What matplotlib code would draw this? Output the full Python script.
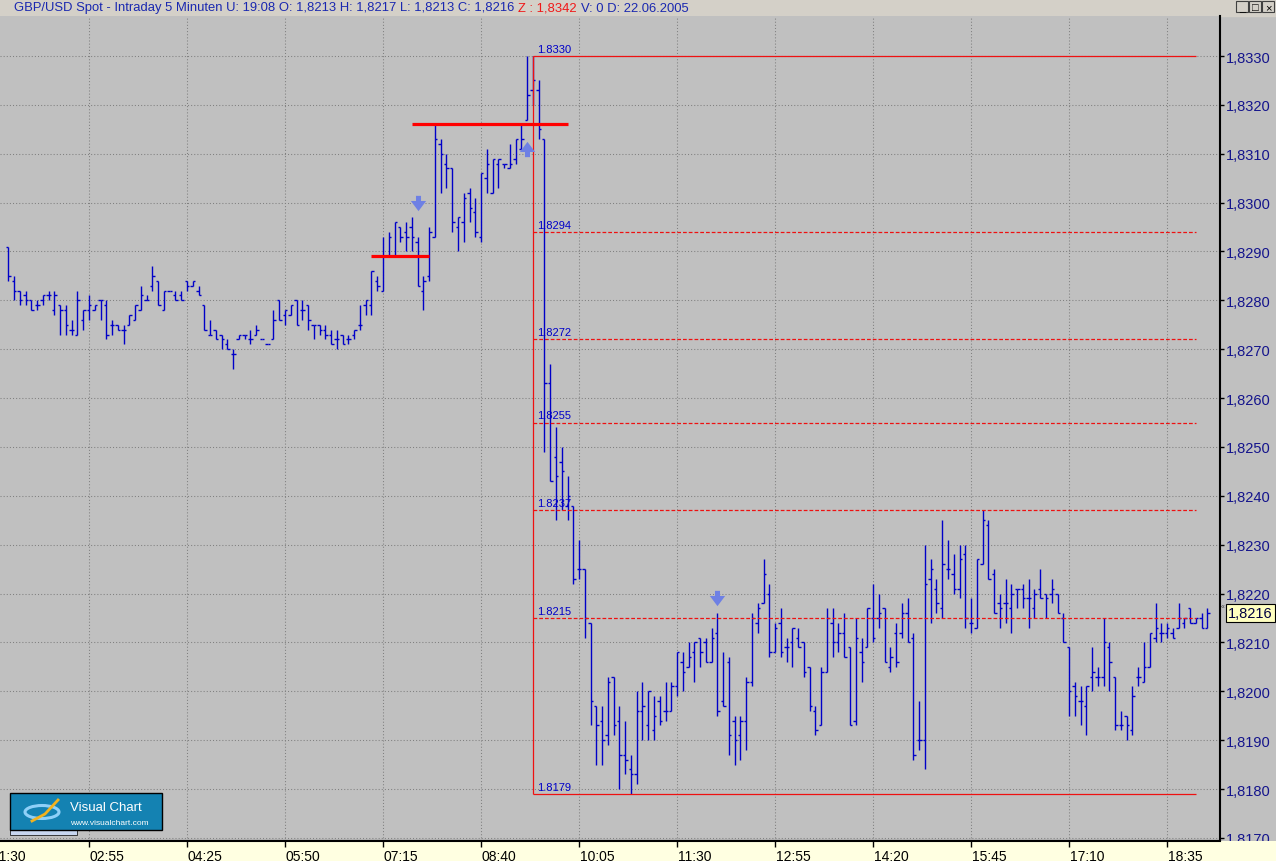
import numpy as np
import matplotlib.pyplot as plt
from matplotlib.path import Path
from matplotlib.markers import MarkerStyle
from matplotlib.patches import Rectangle, Ellipse

plt.rcParams['font.family'] = ['Liberation Sans', 'DejaVu Sans']

# ---------------------------------------------------------------
# GBP/USD Spot, 5 minute bars, 22.06.2005
# ---------------------------------------------------------------
opens = [1.8291, 1.8284, 1.8282, 1.8281, 1.8280, 1.8279, 1.8280, 1.8281, 1.8278, 1.8279,
         1.8278, 1.8274, 1.8273, 1.8276, 1.8278, 1.8278, 1.8280, 1.8279, 1.8275, 1.8275,
         1.8274, 1.8275, 1.8276, 1.8278, 1.8280, 1.8283, 1.8284, 1.8278, 1.8282, 1.8281,
         1.8281, 1.8284, 1.8283, 1.8282, 1.8279, 1.8273, 1.8274, 1.8273, 1.8271, 1.8269,
         1.8272, 1.8273, 1.8272, 1.8273, 1.8272, 1.8271, 1.8272, 1.8280, 1.8277, 1.8277,
         1.8280, 1.8278, 1.8279, 1.8275, 1.8275, 1.8274, 1.8273, 1.8272, 1.8273, 1.8272,
         1.8273, 1.8275, 1.8279, 1.8279, 1.8284, 1.8282, 1.8289, 1.8289, 1.8295, 1.8294,
         1.8295, 1.8292, 1.8282, 1.8285, 1.8293, 1.8312, 1.8308, 1.8307, 1.8295, 1.8296,
         1.8302, 1.8298, 1.8293, 1.8305, 1.8302, 1.8308, 1.8308, 1.8307, 1.8309, 1.8311,
         1.8317, 1.8323, 1.8323, 1.8313, 1.8263, 1.8248, 1.8247, 1.8238, 1.8238, 1.8225,
         1.8225, 1.8214, 1.8197, 1.8194, 1.8191, 1.8203, 1.8194, 1.8187, 1.8184, 1.8183,
         1.8196, 1.8193, 1.8192, 1.8198, 1.8196, 1.8196, 1.8201, 1.8206, 1.8205, 1.8208,
         1.8211, 1.8210, 1.8206, 1.8212, 1.8198, 1.8206, 1.8194, 1.8191, 1.8194, 1.8202,
         1.8214, 1.8218, 1.8220, 1.8208, 1.8214, 1.8209, 1.8210, 1.8211, 1.8210, 1.8205,
         1.8196, 1.8193, 1.8204, 1.8214, 1.8210, 1.8212, 1.8209, 1.8194, 1.8208, 1.8209,
         1.8215, 1.8215, 1.8217, 1.8205, 1.8212, 1.8212, 1.8216, 1.8211, 1.8190, 1.8190,
         1.8223, 1.8221, 1.8217, 1.8225, 1.8224, 1.8221, 1.8228, 1.8214, 1.8213, 1.8226,
         1.8234, 1.8224, 1.8218, 1.8218, 1.8217, 1.8221, 1.8221, 1.8219, 1.8217, 1.8221,
         1.8220, 1.8220, 1.8220, 1.8215, 1.8209, 1.8201, 1.8198, 1.8197, 1.8203, 1.8203,
         1.8203, 1.8209, 1.8203, 1.8193, 1.8195, 1.8192, 1.8203, 1.8202, 1.8205, 1.8211,
         1.8212, 1.8212, 1.8212, 1.8213, 1.8214, 1.8217, 1.8214, 1.8215, 1.8213]
highs = [1.8291, 1.8285, 1.8282, 1.8282, 1.8280, 1.8280, 1.8281, 1.8282, 1.8282, 1.8279,
         1.8279, 1.8276, 1.8282, 1.8278, 1.8281, 1.8279, 1.8280, 1.8280, 1.8276, 1.8275,
         1.8275, 1.8277, 1.8279, 1.8283, 1.8281, 1.8287, 1.8284, 1.8282, 1.8282, 1.8282,
         1.8282, 1.8284, 1.8284, 1.8283, 1.8279, 1.8276, 1.8274, 1.8273, 1.8272, 1.8270,
         1.8273, 1.8273, 1.8274, 1.8275, 1.8272, 1.8271, 1.8278, 1.8280, 1.8278, 1.8279,
         1.8280, 1.8280, 1.8279, 1.8275, 1.8275, 1.8275, 1.8274, 1.8274, 1.8273, 1.8273,
         1.8274, 1.8279, 1.8280, 1.8286, 1.8285, 1.8293, 1.8294, 1.8296, 1.8295, 1.8296,
         1.8297, 1.8293, 1.8285, 1.8295, 1.8316, 1.8313, 1.8310, 1.8307, 1.8297, 1.8302,
         1.8303, 1.8301, 1.8306, 1.8311, 1.8309, 1.8309, 1.8308, 1.8312, 1.8313, 1.8316,
         1.8330, 1.8330, 1.8325, 1.8313, 1.8267, 1.8254, 1.8250, 1.8244, 1.8238, 1.8231,
         1.8225, 1.8214, 1.8197, 1.8197, 1.8203, 1.8203, 1.8197, 1.8194, 1.8187, 1.8200,
         1.8202, 1.8200, 1.8199, 1.8199, 1.8202, 1.8202, 1.8208, 1.8208, 1.8210, 1.8210,
         1.8211, 1.8211, 1.8213, 1.8216, 1.8208, 1.8207, 1.8195, 1.8195, 1.8203, 1.8216,
         1.8218, 1.8227, 1.8222, 1.8214, 1.8217, 1.8211, 1.8213, 1.8213, 1.8210, 1.8205,
         1.8197, 1.8205, 1.8217, 1.8217, 1.8214, 1.8216, 1.8209, 1.8215, 1.8211, 1.8217,
         1.8222, 1.8220, 1.8217, 1.8209, 1.8214, 1.8218, 1.8219, 1.8212, 1.8198, 1.8230,
         1.8227, 1.8223, 1.8235, 1.8231, 1.8228, 1.8230, 1.8230, 1.8219, 1.8227, 1.8237,
         1.8235, 1.8225, 1.8220, 1.8223, 1.8222, 1.8221, 1.8222, 1.8223, 1.8221, 1.8225,
         1.8220, 1.8223, 1.8220, 1.8216, 1.8209, 1.8202, 1.8201, 1.8201, 1.8209, 1.8205,
         1.8215, 1.8210, 1.8203, 1.8196, 1.8195, 1.8201, 1.8205, 1.8210, 1.8212, 1.8218,
         1.8214, 1.8214, 1.8213, 1.8218, 1.8215, 1.8217, 1.8215, 1.8216, 1.8217]
lows = [1.8284, 1.8280, 1.8279, 1.8279, 1.8278, 1.8278, 1.8279, 1.8280, 1.8277, 1.8273,
        1.8273, 1.8273, 1.8273, 1.8274, 1.8276, 1.8278, 1.8276, 1.8272, 1.8273, 1.8274,
        1.8271, 1.8275, 1.8276, 1.8278, 1.8280, 1.8282, 1.8279, 1.8278, 1.8282, 1.8280,
        1.8280, 1.8282, 1.8283, 1.8281, 1.8274, 1.8273, 1.8272, 1.8270, 1.8270, 1.8266,
        1.8272, 1.8272, 1.8271, 1.8273, 1.8272, 1.8271, 1.8272, 1.8276, 1.8275, 1.8277,
        1.8275, 1.8276, 1.8274, 1.8272, 1.8273, 1.8272, 1.8271, 1.8270, 1.8271, 1.8271,
        1.8272, 1.8274, 1.8277, 1.8277, 1.8282, 1.8282, 1.8289, 1.8289, 1.8292, 1.8290,
        1.8290, 1.8283, 1.8278, 1.8284, 1.8293, 1.8302, 1.8303, 1.8294, 1.8290, 1.8292,
        1.8296, 1.8293, 1.8292, 1.8302, 1.8302, 1.8303, 1.8307, 1.8307, 1.8308, 1.8311,
        1.8317, 1.8320, 1.8313, 1.8249, 1.8243, 1.8235, 1.8237, 1.8235, 1.8222, 1.8223,
        1.8211, 1.8193, 1.8185, 1.8185, 1.8189, 1.8191, 1.8180, 1.8183, 1.8179, 1.8181,
        1.8190, 1.8190, 1.8190, 1.8193, 1.8194, 1.8196, 1.8199, 1.8200, 1.8205, 1.8202,
        1.8205, 1.8206, 1.8206, 1.8195, 1.8197, 1.8187, 1.8185, 1.8186, 1.8188, 1.8201,
        1.8212, 1.8218, 1.8207, 1.8208, 1.8207, 1.8206, 1.8205, 1.8209, 1.8203, 1.8196,
        1.8191, 1.8193, 1.8204, 1.8207, 1.8208, 1.8207, 1.8193, 1.8193, 1.8202, 1.8209,
        1.8210, 1.8213, 1.8206, 1.8204, 1.8205, 1.8211, 1.8210, 1.8186, 1.8188, 1.8184,
        1.8214, 1.8216, 1.8215, 1.8223, 1.8220, 1.8219, 1.8213, 1.8212, 1.8213, 1.8226,
        1.8223, 1.8216, 1.8213, 1.8214, 1.8212, 1.8217, 1.8217, 1.8213, 1.8215, 1.8219,
        1.8215, 1.8218, 1.8216, 1.8210, 1.8195, 1.8195, 1.8193, 1.8191, 1.8200, 1.8201,
        1.8201, 1.8200, 1.8192, 1.8192, 1.8190, 1.8191, 1.8201, 1.8202, 1.8205, 1.8210,
        1.8210, 1.8211, 1.8211, 1.8213, 1.8213, 1.8214, 1.8214, 1.8213, 1.8213]
closes = [1.8285, 1.8282, 1.8280, 1.8280, 1.8278, 1.8279, 1.8281, 1.8281, 1.8281, 1.8278,
          1.8275, 1.8274, 1.8280, 1.8278, 1.8279, 1.8279, 1.8280, 1.8273, 1.8275, 1.8274,
          1.8274, 1.8277, 1.8279, 1.8281, 1.8280, 1.8285, 1.8279, 1.8282, 1.8282, 1.8280,
          1.8280, 1.8283, 1.8284, 1.8281, 1.8274, 1.8273, 1.8272, 1.8272, 1.8270, 1.8269,
          1.8273, 1.8273, 1.8272, 1.8274, 1.8272, 1.8271, 1.8276, 1.8276, 1.8278, 1.8279,
          1.8275, 1.8278, 1.8276, 1.8275, 1.8274, 1.8273, 1.8271, 1.8272, 1.8271, 1.8272,
          1.8274, 1.8275, 1.8280, 1.8286, 1.8283, 1.8289, 1.8293, 1.8296, 1.8293, 1.8293,
          1.8293, 1.8283, 1.8284, 1.8294, 1.8313, 1.8310, 1.8307, 1.8296, 1.8297, 1.8301,
          1.8299, 1.8294, 1.8306, 1.8308, 1.8309, 1.8309, 1.8308, 1.8308, 1.8313, 1.8313,
          1.8322, 1.8325, 1.8315, 1.8263, 1.8243, 1.8244, 1.8245, 1.8240, 1.8223, 1.8225,
          1.8215, 1.8198, 1.8193, 1.8190, 1.8202, 1.8193, 1.8187, 1.8186, 1.8183, 1.8196,
          1.8197, 1.8200, 1.8195, 1.8194, 1.8196, 1.8201, 1.8208, 1.8204, 1.8207, 1.8210,
          1.8208, 1.8206, 1.8211, 1.8196, 1.8197, 1.8191, 1.8190, 1.8194, 1.8202, 1.8215,
          1.8217, 1.8224, 1.8208, 1.8213, 1.8208, 1.8209, 1.8213, 1.8209, 1.8204, 1.8197,
          1.8192, 1.8204, 1.8215, 1.8210, 1.8212, 1.8207, 1.8193, 1.8211, 1.8206, 1.8217,
          1.8211, 1.8216, 1.8206, 1.8207, 1.8206, 1.8216, 1.8210, 1.8187, 1.8190, 1.8222,
          1.8225, 1.8218, 1.8226, 1.8225, 1.8221, 1.8227, 1.8215, 1.8214, 1.8227, 1.8235,
          1.8223, 1.8216, 1.8217, 1.8218, 1.8220, 1.8221, 1.8219, 1.8219, 1.8220, 1.8219,
          1.8219, 1.8221, 1.8216, 1.8210, 1.8200, 1.8199, 1.8198, 1.8201, 1.8204, 1.8203,
          1.8210, 1.8206, 1.8193, 1.8193, 1.8193, 1.8199, 1.8203, 1.8205, 1.8212, 1.8213,
          1.8212, 1.8213, 1.8211, 1.8215, 1.8215, 1.8214, 1.8215, 1.8213, 1.8216]

# time axis labels (bar index where each label sits)
time_labels = ['01:30', '02:55', '04:25', '05:50', '07:15', '08:40', '10:05',
               '11:30', '12:55', '14:20', '15:45', '17:10', '18:35']
label_bars = [-3, 14, 31, 48, 65, 82, 99, 116, 133, 150, 167, 184, 201]

# Fibonacci retracement drawn from the 1.8330 high to the 1.8179 low
fib_levels = [1.8330, 1.8294, 1.8272, 1.8255, 1.8237, 1.8215, 1.8179]
fib_start = 91
fib_end = 206

# thick red support / resistance marks
sr_prices = [1.8289, 1.8316]
sr_from = [63, 70]
sr_to = [73, 97]

# signal arrows
signal_bars = [71, 90, 123]
signal_prices = [1.8300, 1.8311, 1.8219]
signal_dirs = ['down', 'up', 'down']

last_price = 1.8216
y_ticks = [1.8170, 1.8180, 1.8190, 1.8200, 1.8210, 1.8220, 1.8230, 1.8240,
           1.8250, 1.8260, 1.8270, 1.8280, 1.8290, 1.8300, 1.8310, 1.8320, 1.8330]

# ---------------------------------------------------------------
W, H = 1276, 862
bar_col = '#0000C8'
red = '#EE1111'
silver = '#C0C0C0'
xmin, xmax = -1.44, 210.18

fig = plt.figure(figsize=(W / 100, H / 100), dpi=100, facecolor=silver)

# header strip
bg = fig.add_axes([0, 0, 1, 1], zorder=-1)
bg.set_xlim(0, W)
bg.set_ylim(H, 0)
bg.axis('off')
bg.add_patch(Rectangle((0, 0), W, 17, color='#D4D0C8'))

ax = fig.add_axes([0, 20 / H, 1220 / W, 825 / H], facecolor=silver)
ax.set_xlim(xmin, xmax)
ax.set_ylim(1.816936, 1.833819)
ax.set_axisbelow(True)

# OHLC bars
x = np.arange(len(opens))
ax.vlines(x, lows, highs, color=bar_col, lw=1.0)
ax.hlines(opens, x - 0.42, x, color=bar_col, lw=1.0)
ax.hlines(closes, x, x + 0.42, color=bar_col, lw=1.0)

# Fibonacci lines
for i, lvl in enumerate(fib_levels):
    solid = i == 0 or i == len(fib_levels) - 1
    ax.hlines(lvl, fib_start, fib_end, color=red, lw=0.9,
              linestyles='solid' if solid else (0, (3, 1.6)))
    ax.annotate(f'{lvl:.4f}', xy=(fib_start, lvl), xytext=(3, 3),
                textcoords='offset points', fontsize=8, color=bar_col, va='baseline')
ax.vlines(fib_start, fib_levels[-1], fib_levels[0], color=red, lw=0.9)

# thick red marks
ax.hlines(sr_prices, sr_from, sr_to, color='#FF0000', lw=2.3)

# signal arrows
down = Path([(-0.33, 1), (0.33, 1), (0.33, 0.33), (1, 0.33), (0, -1), (-1, 0.33),
             (-0.33, 0.33), (-0.33, 1)], closed=True)
up = Path(down.vertices * [1, -1], closed=True)
for b, p, d in zip(signal_bars, signal_prices, signal_dirs):
    ax.plot(b, p, marker=MarkerStyle(down if d == 'down' else up), markersize=11,
            color='#6E80E4', markeredgewidth=0, zorder=5)

# axes styling
for s in ['left', 'top']:
    ax.spines[s].set_visible(False)
for s in ['right', 'bottom']:
    ax.spines[s].set_color('black')
    ax.spines[s].set_linewidth(1.5)

ax.yaxis.tick_right()
ax.set_yticks(y_ticks)
ax.set_yticklabels([f'{v:.4f}'.replace('.', ',') for v in y_ticks])
ax.tick_params(axis='y', direction='out', length=3, width=1, colors='black',
               labelcolor='#14148C', labelsize=10.5, pad=1.5)
ax.set_xticks(label_bars[1:])
ax.tick_params(axis='x', length=0, labelbottom=False)
ax.grid(True, color='#808080', linestyle=(0, (1, 2)), linewidth=0.75)

# current price marker
ax.annotate(f'{last_price:.4f}'.replace('.', ','), xy=(1, last_price),
            xycoords=('axes fraction', 'data'), xytext=(6, 0), textcoords='offset points',
            fontsize=10.5, va='center', ha='left', color='#000040',
            bbox=dict(boxstyle='square,pad=0.15', fc='#FFFFC0', ec='black', lw=0.8))
ax.annotate('\u00ab', xy=(1, last_price), xycoords=('axes fraction', 'data'),
            xytext=(0.5, 5), textcoords='offset points', fontsize=5, va='center',
            ha='left', color='#404040')

# time axis strip (drawn over the bottom of the price scale, like the original)
axt = fig.add_axes([0, 0, 1, 20 / H], zorder=1, facecolor='#FFFFE1')
axt.set_xlim(xmin, xmin + (xmax - xmin) * W / 1220)
axt.set_ylim(0, 1)
for s in axt.spines.values():
    s.set_visible(False)
axt.set_yticks([])
axt.set_xticks(label_bars[1:])
axt.xaxis.tick_top()
axt.tick_params(axis='x', direction='in', length=4, width=1, colors='black',
                labeltop=False, labelbottom=False)
axt.axhline(1, 0, 1220 / W, color='black', lw=1.5, clip_on=False)
for b, lab in zip(label_bars, time_labels):
    axt.annotate(lab, xy=(b, 1), xycoords=('data', 'axes fraction'), xytext=(0.5, -13.7),
                 textcoords='offset points', fontsize=10, va='baseline', ha='left',
                 annotation_clip=False)

# overlay: header text, buttons, logo
ov = fig.add_axes([0, 0, 1, 1], zorder=3, facecolor='none')
ov.set_xlim(0, W)
ov.set_ylim(H, 0)
ov.axis('off')

fig.canvas.draw()
rend = fig.canvas.get_renderer()
parts = [('GBP/USD Spot - Intraday 5 Minuten U: 19:08 O: 1,8213 H: 1,8217 L: 1,8213 C: 1,8216', '#1A28B0'),
         ('Z : 1,8342', '#F01818'),
         ('V: 0 D: 22.06.2005', '#1A28B0')]
xpos = 14
for txt, col in parts:
    t = ov.text(xpos, 8.5, txt, color=col, fontsize=9.4, va='center', ha='left')
    bb = t.get_window_extent(renderer=rend)
    xpos += bb.width + 4

for bx, sym in zip([1236, 1249, 1262], ['_', '\u25a1', '\u00d7']):
    ov.add_patch(Rectangle((bx, 2), 12, 11, fc='#D4D0C8', ec='#404040', lw=0.8))
    ov.text(bx + 6, 8, sym, fontsize=8, ha='center', va='center', color='black')

ov.add_patch(Rectangle((10, 821), 67, 15, fc='#C8D6F0', ec='#202020', lw=0.6))
ov.add_patch(Rectangle((10, 794), 152, 37, fc='#1482B2', ec='black', lw=1))
ov.add_patch(Ellipse((42, 813), 34, 13, fill=False, ec='#8ED0F8', lw=2.2))
ov.plot([32, 45, 58], [822, 815, 801], color='#F2B21E', lw=2)
ov.text(70, 811, 'Visual Chart', color='white', fontsize=9.5, va='baseline')
ov.text(70, 825, 'www.visualchart.com', color='white', fontsize=6, va='baseline')

fig.savefig('out.png', dpi=100, facecolor=silver)
